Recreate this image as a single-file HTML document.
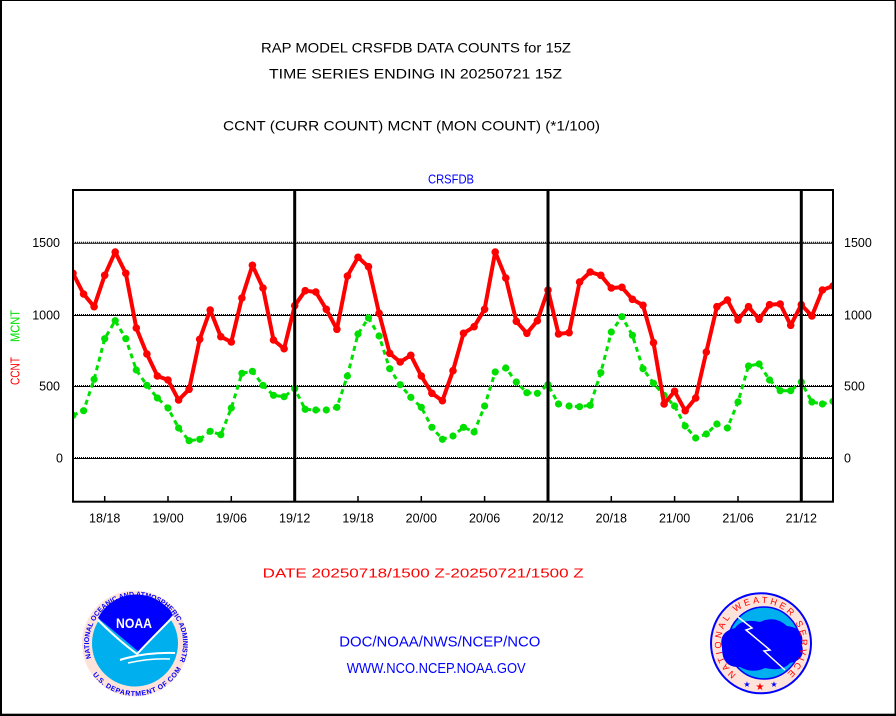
<!DOCTYPE html>
<html><head><meta charset="utf-8"><style>
html,body{margin:0;padding:0;background:#fff;}
svg{display:block;}
text{font-family:"Liberation Sans",sans-serif;}
</style></head><body>
<svg width="896" height="716" viewBox="0 0 896 716" xmlns="http://www.w3.org/2000/svg">
<rect x="0" y="0" width="896" height="716" fill="#fff"/>
<!-- border -->
<rect x="0" y="0" width="896" height="1" fill="#000"/>
<rect x="0" y="0" width="2" height="716" fill="#000"/>
<rect x="894.5" y="0" width="1.5" height="716" fill="#000"/>
<rect x="0" y="713.7" width="896" height="2.3" fill="#000"/>

<!-- titles -->
<text x="261" y="52.7" font-size="14" textLength="310" lengthAdjust="spacingAndGlyphs" fill="#000">RAP MODEL CRSFDB DATA COUNTS for 15Z</text>
<text x="269" y="78.7" font-size="14" textLength="293" lengthAdjust="spacingAndGlyphs" fill="#000">TIME SERIES ENDING IN 20250721 15Z</text>
<text x="223" y="130.7" font-size="14" textLength="377" lengthAdjust="spacingAndGlyphs" fill="#000">CCNT (CURR COUNT) MCNT (MON COUNT) (*1/100)</text>
<text x="428" y="183.3" font-size="12.5" textLength="46" lengthAdjust="spacingAndGlyphs" fill="#0000ff">CRSFDB</text>

<!-- gridlines -->
<g fill="none" stroke="#000">
<g stroke-width="1">
<line x1="73" y1="243.2" x2="833" y2="243.2"/>
<line x1="73" y1="315.5" x2="833" y2="315.5"/>
<line x1="73" y1="386.5" x2="833" y2="386.5"/>
<line x1="73" y1="458.5" x2="833" y2="458.5"/>
</g>
<g stroke-width="1" stroke-dasharray="1,1">
<line x1="73" y1="242.2" x2="833" y2="242.2"/>
<line x1="73" y1="314.5" x2="833" y2="314.5"/>
<line x1="73" y1="385.5" x2="833" y2="385.5"/>
<line x1="73" y1="457.5" x2="833" y2="457.5"/>
</g>
</g>

<!-- axis tick labels left -->
<g font-size="12.5" fill="#000" text-anchor="end">
<text x="60" y="247.2">1500</text>
<text x="60" y="319.5">1000</text>
<text x="60" y="390.5">500</text>
<text x="63" y="462.5">0</text>
</g>
<g font-size="12.5" fill="#000">
<text x="844" y="247.2">1500</text>
<text x="844" y="319.5">1000</text>
<text x="844" y="390.5">500</text>
<text x="844" y="462.5">0</text>
</g>

<!-- y axis title -->
<text transform="translate(19.5,385) rotate(-90)" font-size="12.5" fill="#ff0000" textLength="28" lengthAdjust="spacingAndGlyphs">CCNT</text>
<text transform="translate(19.5,342) rotate(-90)" font-size="12.5" fill="#00e000" textLength="32" lengthAdjust="spacingAndGlyphs">MCNT</text>

<!-- x tick labels -->
<g font-size="12.5" fill="#000" text-anchor="middle">
<text x="104.7" y="522.7">18/18</text>
<text x="168" y="522.7">19/00</text>
<text x="231.3" y="522.7">19/06</text>
<text x="294.7" y="522.7">19/12</text>
<text x="358" y="522.7">19/18</text>
<text x="421.3" y="522.7">20/00</text>
<text x="484.6" y="522.7">20/06</text>
<text x="548" y="522.7">20/12</text>
<text x="611.3" y="522.7">20/18</text>
<text x="674.6" y="522.7">21/00</text>
<text x="738" y="522.7">21/06</text>
<text x="801.3" y="522.7">21/12</text>
</g>

<defs><clipPath id="pc"><rect x="73" y="190" width="760" height="312"/></clipPath></defs>

<g clip-path="url(#pc)">
<!-- green MCNT -->
<polyline fill="none" stroke="#00e000" stroke-width="3" stroke-dasharray="5,4" stroke-linejoin="round"
points="73,415.3 83.6,410.7 94.1,379.3 104.7,338.7 115.2,320.7 125.8,338.7 136.3,370 146.9,385.3 157.4,398 168,408 178.6,428 189.1,440.7 199.7,439.3 210.2,431.3 220.8,434.7 231.3,408 241.9,373.3 252.4,371.3 263,385.3 273.5,395.3 284.1,396.7 294.7,388.7 305.2,409.3 315.8,410 326.3,410 336.9,407.3 347.4,376 358,334 368.5,318 379.1,336 389.7,368.7 400.2,384.7 410.8,397.3 421.3,407.3 431.9,427.3 442.4,439.3 453,436 463.5,427.3 474.1,432 484.6,406 495.2,372 505.8,368 516.3,382 526.9,392.7 537.4,393.3 548,384.7 558.5,404 569.1,406 579.6,406.7 590.2,405.3 600.8,372.7 611.3,332 621.9,316.7 632.4,335.3 643,368.7 653.5,383.3 664.1,395.3 674.6,406 685.2,426 695.7,438 706.3,434 716.9,424 727.4,428 738,402 748.5,366 759.1,364 769.6,380 780.2,390.7 790.7,390.7 801.3,382 811.9,402 822.4,404 833,401.3"/>
<g fill="#00e000">
<circle cx="73" cy="415.3" r="3.6"/><circle cx="83.6" cy="410.7" r="3.6"/><circle cx="94.1" cy="379.3" r="3.6"/><circle cx="104.7" cy="338.7" r="3.6"/><circle cx="115.2" cy="320.7" r="3.6"/><circle cx="125.8" cy="338.7" r="3.6"/><circle cx="136.3" cy="370" r="3.6"/><circle cx="146.9" cy="385.3" r="3.6"/><circle cx="157.4" cy="398" r="3.6"/><circle cx="168" cy="408" r="3.6"/><circle cx="178.6" cy="428" r="3.6"/><circle cx="189.1" cy="440.7" r="3.6"/><circle cx="199.7" cy="439.3" r="3.6"/><circle cx="210.2" cy="431.3" r="3.6"/><circle cx="220.8" cy="434.7" r="3.6"/><circle cx="231.3" cy="408" r="3.6"/><circle cx="241.9" cy="373.3" r="3.6"/><circle cx="252.4" cy="371.3" r="3.6"/><circle cx="263" cy="385.3" r="3.6"/><circle cx="273.5" cy="395.3" r="3.6"/><circle cx="284.1" cy="396.7" r="3.6"/><circle cx="294.7" cy="388.7" r="3.6"/><circle cx="305.2" cy="409.3" r="3.6"/><circle cx="315.8" cy="410" r="3.6"/><circle cx="326.3" cy="410" r="3.6"/><circle cx="336.9" cy="407.3" r="3.6"/><circle cx="347.4" cy="376" r="3.6"/><circle cx="358" cy="334" r="3.6"/><circle cx="368.5" cy="318" r="3.6"/><circle cx="379.1" cy="336" r="3.6"/><circle cx="389.7" cy="368.7" r="3.6"/><circle cx="400.2" cy="384.7" r="3.6"/><circle cx="410.8" cy="397.3" r="3.6"/><circle cx="421.3" cy="407.3" r="3.6"/><circle cx="431.9" cy="427.3" r="3.6"/><circle cx="442.4" cy="439.3" r="3.6"/><circle cx="453" cy="436" r="3.6"/><circle cx="463.5" cy="427.3" r="3.6"/><circle cx="474.1" cy="432" r="3.6"/><circle cx="484.6" cy="406" r="3.6"/><circle cx="495.2" cy="372" r="3.6"/><circle cx="505.8" cy="368" r="3.6"/><circle cx="516.3" cy="382" r="3.6"/><circle cx="526.9" cy="392.7" r="3.6"/><circle cx="537.4" cy="393.3" r="3.6"/><circle cx="548" cy="384.7" r="3.6"/><circle cx="558.5" cy="404" r="3.6"/><circle cx="569.1" cy="406" r="3.6"/><circle cx="579.6" cy="406.7" r="3.6"/><circle cx="590.2" cy="405.3" r="3.6"/><circle cx="600.8" cy="372.7" r="3.6"/><circle cx="611.3" cy="332" r="3.6"/><circle cx="621.9" cy="316.7" r="3.6"/><circle cx="632.4" cy="335.3" r="3.6"/><circle cx="643" cy="368.7" r="3.6"/><circle cx="653.5" cy="383.3" r="3.6"/><circle cx="664.1" cy="395.3" r="3.6"/><circle cx="674.6" cy="406" r="3.6"/><circle cx="685.2" cy="426" r="3.6"/><circle cx="695.7" cy="438" r="3.6"/><circle cx="706.3" cy="434" r="3.6"/><circle cx="716.9" cy="424" r="3.6"/><circle cx="727.4" cy="428" r="3.6"/><circle cx="738" cy="402" r="3.6"/><circle cx="748.5" cy="366" r="3.6"/><circle cx="759.1" cy="364" r="3.6"/><circle cx="769.6" cy="380" r="3.6"/><circle cx="780.2" cy="390.7" r="3.6"/><circle cx="790.7" cy="390.7" r="3.6"/><circle cx="801.3" cy="382" r="3.6"/><circle cx="811.9" cy="402" r="3.6"/><circle cx="822.4" cy="404" r="3.6"/><circle cx="833" cy="401.3" r="3.6"/>
</g>

<!-- red CCNT -->
<polyline fill="none" stroke="#ff0000" stroke-width="4" stroke-linejoin="round"
points="73,273.3 83.6,294 94.1,306.7 104.7,275.3 115.2,252 125.8,273.3 136.3,328 146.9,354 157.4,376 168,380 178.6,400 189.1,389.3 199.7,339.3 210.2,310 220.8,336.7 231.3,342 241.9,298 252.4,265.3 263,288 273.5,340 284.1,348.7 294.7,305.7 305.2,290.7 315.8,292 326.3,309.3 336.9,329.3 347.4,276 358,257.3 368.5,266.7 379.1,313.3 389.7,353.3 400.2,362 410.8,355.3 421.3,376 431.9,393.3 442.4,400.7 453,370.7 463.5,333.3 474.1,326.7 484.6,309.3 495.2,252 505.8,278 516.3,321.3 526.9,333.3 537.4,320.7 548,290 558.5,334 569.1,332.7 579.6,282 590.2,272 600.8,275.3 611.3,288 621.9,287.3 632.4,299.3 643,305.3 653.5,342.7 664.1,404 674.6,391.3 685.2,410.7 695.7,398 706.3,352 716.9,306.7 727.4,300 738,320 748.5,306.7 759.1,319.3 769.6,304.7 780.2,304 790.7,325.3 801.3,304.7 811.9,316 822.4,290 833,286"/>
<g fill="#ff0000">
<circle cx="73" cy="273.3" r="3.8"/><circle cx="83.6" cy="294" r="3.8"/><circle cx="94.1" cy="306.7" r="3.8"/><circle cx="104.7" cy="275.3" r="3.8"/><circle cx="115.2" cy="252" r="3.8"/><circle cx="125.8" cy="273.3" r="3.8"/><circle cx="136.3" cy="328" r="3.8"/><circle cx="146.9" cy="354" r="3.8"/><circle cx="157.4" cy="376" r="3.8"/><circle cx="168" cy="380" r="3.8"/><circle cx="178.6" cy="400" r="3.8"/><circle cx="189.1" cy="389.3" r="3.8"/><circle cx="199.7" cy="339.3" r="3.8"/><circle cx="210.2" cy="310" r="3.8"/><circle cx="220.8" cy="336.7" r="3.8"/><circle cx="231.3" cy="342" r="3.8"/><circle cx="241.9" cy="298" r="3.8"/><circle cx="252.4" cy="265.3" r="3.8"/><circle cx="263" cy="288" r="3.8"/><circle cx="273.5" cy="340" r="3.8"/><circle cx="284.1" cy="348.7" r="3.8"/><circle cx="294.7" cy="305.7" r="3.8"/><circle cx="305.2" cy="290.7" r="3.8"/><circle cx="315.8" cy="292" r="3.8"/><circle cx="326.3" cy="309.3" r="3.8"/><circle cx="336.9" cy="329.3" r="3.8"/><circle cx="347.4" cy="276" r="3.8"/><circle cx="358" cy="257.3" r="3.8"/><circle cx="368.5" cy="266.7" r="3.8"/><circle cx="379.1" cy="313.3" r="3.8"/><circle cx="389.7" cy="353.3" r="3.8"/><circle cx="400.2" cy="362" r="3.8"/><circle cx="410.8" cy="355.3" r="3.8"/><circle cx="421.3" cy="376" r="3.8"/><circle cx="431.9" cy="393.3" r="3.8"/><circle cx="442.4" cy="400.7" r="3.8"/><circle cx="453" cy="370.7" r="3.8"/><circle cx="463.5" cy="333.3" r="3.8"/><circle cx="474.1" cy="326.7" r="3.8"/><circle cx="484.6" cy="309.3" r="3.8"/><circle cx="495.2" cy="252" r="3.8"/><circle cx="505.8" cy="278" r="3.8"/><circle cx="516.3" cy="321.3" r="3.8"/><circle cx="526.9" cy="333.3" r="3.8"/><circle cx="537.4" cy="320.7" r="3.8"/><circle cx="548" cy="290" r="3.8"/><circle cx="558.5" cy="334" r="3.8"/><circle cx="569.1" cy="332.7" r="3.8"/><circle cx="579.6" cy="282" r="3.8"/><circle cx="590.2" cy="272" r="3.8"/><circle cx="600.8" cy="275.3" r="3.8"/><circle cx="611.3" cy="288" r="3.8"/><circle cx="621.9" cy="287.3" r="3.8"/><circle cx="632.4" cy="299.3" r="3.8"/><circle cx="643" cy="305.3" r="3.8"/><circle cx="653.5" cy="342.7" r="3.8"/><circle cx="664.1" cy="404" r="3.8"/><circle cx="674.6" cy="391.3" r="3.8"/><circle cx="685.2" cy="410.7" r="3.8"/><circle cx="695.7" cy="398" r="3.8"/><circle cx="706.3" cy="352" r="3.8"/><circle cx="716.9" cy="306.7" r="3.8"/><circle cx="727.4" cy="300" r="3.8"/><circle cx="738" cy="320" r="3.8"/><circle cx="748.5" cy="306.7" r="3.8"/><circle cx="759.1" cy="319.3" r="3.8"/><circle cx="769.6" cy="304.7" r="3.8"/><circle cx="780.2" cy="304" r="3.8"/><circle cx="790.7" cy="325.3" r="3.8"/><circle cx="801.3" cy="304.7" r="3.8"/><circle cx="811.9" cy="316" r="3.8"/><circle cx="822.4" cy="290" r="3.8"/><circle cx="833" cy="286" r="3.8"/>
</g>
</g>

<!-- frame & verticals -->
<rect x="73" y="190" width="760" height="311.7" fill="none" stroke="#000" stroke-width="2"/>
<g stroke="#000" stroke-width="3">
<line x1="294.7" y1="190" x2="294.7" y2="501.7"/>
<line x1="548" y1="190" x2="548" y2="501.7"/>
<line x1="801.3" y1="190" x2="801.3" y2="501.7"/>
</g>
<g stroke="#000" stroke-width="1.5">
<line x1="104.7" y1="496" x2="104.7" y2="501"/>
<line x1="168" y1="496" x2="168" y2="501"/>
<line x1="231.3" y1="496" x2="231.3" y2="501"/>
<line x1="358" y1="496" x2="358" y2="501"/>
<line x1="421.3" y1="496" x2="421.3" y2="501"/>
<line x1="484.6" y1="496" x2="484.6" y2="501"/>
<line x1="611.3" y1="496" x2="611.3" y2="501"/>
<line x1="674.6" y1="496" x2="674.6" y2="501"/>
<line x1="738" y1="496" x2="738" y2="501"/>
</g>

<!-- bottom texts -->
<text x="262.7" y="577.7" font-size="13" textLength="321" lengthAdjust="spacingAndGlyphs" fill="#ff0000">DATE 20250718/1500 Z-20250721/1500 Z</text>
<text x="339.3" y="646.3" font-size="15" textLength="201" lengthAdjust="spacingAndGlyphs" fill="#0000ff">DOC/NOAA/NWS/NCEP/NCO</text>
<text x="346.7" y="673" font-size="15" textLength="179" lengthAdjust="spacingAndGlyphs" fill="#0000ff">WWW.NCO.NCEP.NOAA.GOV</text>

<defs>
<path id="noaaTop" d="M92,660 A47,47 0 1 1 180,660"/>
<path id="noaaBot" d="M93,664 A47,47 0 0 0 177,664"/>
<path id="nwsTop" d="M736.3,674.5 A40,40 0 1 1 785.7,674.5"/>
</defs>

<!-- NOAA logo -->
<g>
<circle cx="135" cy="643.5" r="53" fill="#fde3da"/>
<circle cx="135" cy="643.5" r="43" fill="#00b0ee"/>
<path d="M98,618 A43,43 0 0 1 173,615 Q155,635 139,652 Q120,636 98,618 Z" fill="#0000ff"/>
<path d="M98,620 Q118,640 137,654 Q150,640 173,617" fill="none" stroke="#fff" stroke-width="2"/>
<path d="M120,660 Q145,652 175,653" fill="none" stroke="#fff" stroke-width="2"/>
<path d="M128,663 Q150,658 170,659" fill="none" stroke="#fff" stroke-width="1.5"/>
<text x="134" y="628" font-size="14" font-weight="bold" fill="#fff" text-anchor="middle" textLength="36" lengthAdjust="spacingAndGlyphs">NOAA</text>
<text font-size="7" fill="#0000ff" font-weight="bold"><textPath href="#noaaTop" startOffset="2">NATIONAL OCEANIC AND ATMOSPHERIC ADMINISTRATION</textPath></text>
<text font-size="7" fill="#0000ff" font-weight="bold" dy="6"><textPath href="#noaaBot" startOffset="8">U.S. DEPARTMENT OF COMMERCE</textPath></text>
</g>

<!-- NWS logo -->
<g>
<circle cx="761" cy="643.3" r="50" fill="#fde3da" stroke="#0000ff" stroke-width="2"/>
<circle cx="764" cy="643" r="36" fill="#00b0ee" stroke="#0000ff" stroke-width="1.5"/>
<path d="M722,648 Q718,632 735,628 Q742,618 760,622 Q775,615 787,626 Q805,628 802,645 Q806,660 790,663 Q782,672 765,668 Q752,674 740,667 Q722,668 722,648 Z" fill="#0000ff"/>
<path d="M738,617 L752,628 L746,630 L770,650 L764,651 L785,670" fill="none" stroke="#fff" stroke-width="1.5"/>
<text font-size="9" fill="#ff0000"><textPath href="#nwsTop" textLength="196" lengthAdjust="spacing">NATIONAL WEATHER SERVICE</textPath></text>
<text x="747" y="687" font-size="8" fill="#0000ff" text-anchor="middle">★</text>
<text x="760" y="690" font-size="10" fill="#ff0000" text-anchor="middle">★</text>
<text x="774" y="687" font-size="8" fill="#0000ff" text-anchor="middle">★</text>
</g>
</svg>
</body></html>
